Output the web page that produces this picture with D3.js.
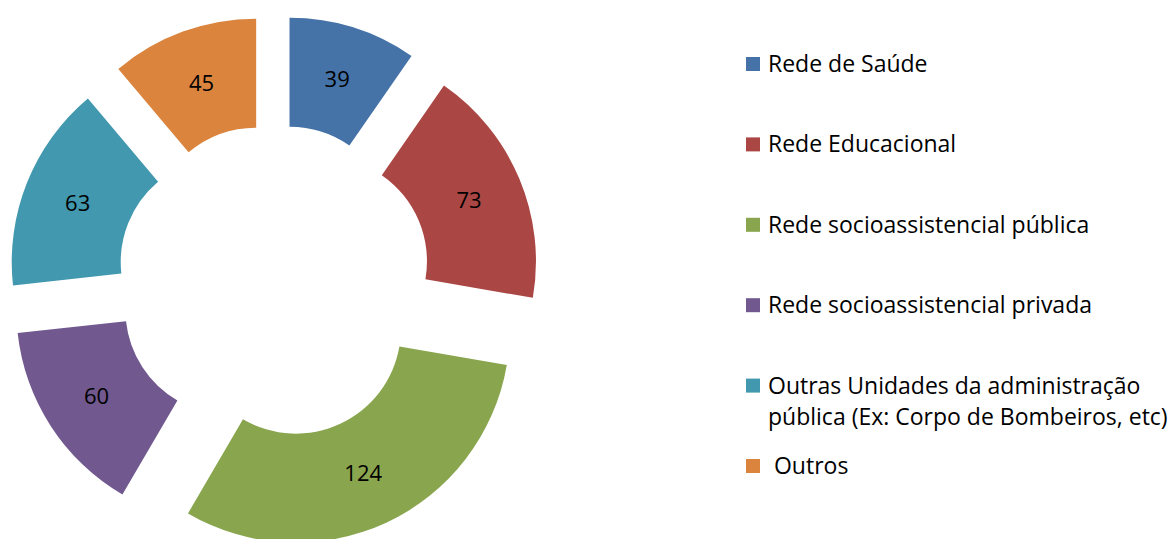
<!DOCTYPE html>
<html>
<head>
<meta charset="utf-8">
<script src="https://cdn.jsdelivr.net/npm/d3@7"></script>
<style>
  html, body { margin: 0; padding: 0; background: #fff; }
  svg { display: block; font-family: "Open Sans", Lato, sans-serif; }
</style>
</head>
<body>
<div id="chart"></div>
<script>
// data
const categories = [
  'Rede de Saúde',
  'Rede Educacional',
  'Rede socioassistencial pública',
  'Rede socioassistencial privada',
  'Outras Unidades da administração pública (Ex: Corpo de Bombeiros, etc)',
  'Outros'
];
const legendLines = [
  ['Rede de Saúde'],
  ['Rede Educacional'],
  ['Rede socioassistencial pública'],
  ['Rede socioassistencial privada'],
  ['Outras Unidades da administração', 'pública (Ex: Corpo de Bombeiros, etc)'],
  [' Outros']
];
const values = [39, 73, 124, 60, 63, 45];
const colors = ['#4572A7', '#AA4643', '#89A54E', '#71588F', '#4198AF', '#DB843D'];

const width = 1176, height = 539;
const center = { x: 274, y: 281.5 };
const outer = 214, inner = 105, explode = 52;

const svg = d3.select('#chart').append('svg')
  .attr('width', width)
  .attr('height', height);

const pie = d3.pie().sort(null).value((d) => d.value);
const arc = d3.arc().innerRadius(inner).outerRadius(outer);

const slices = pie(values.map((v, i) => ({ value: v, i })));

const g = svg.append('g')
  .attr('transform', `translate(${center.x},${center.y})`);

const slice = g.selectAll('g.slice')
  .data(slices)
  .enter().append('g')
  .attr('class', 'slice')
  .attr('transform', (d) => {
    const a = (d.startAngle + d.endAngle) / 2;
    return `translate(${explode * Math.sin(a)},${-explode * Math.cos(a)})`;
  });

slice.append('path')
  .attr('d', arc)
  .attr('fill', (d) => colors[d.data.i]);

slice.append('text')
  .attr('transform', (d) => `translate(${arc.centroid(d)})`)
  .attr('text-anchor', 'middle')
  .attr('dy', '0.35em')
  .style('font-size', '22px')
  .style('fill', '#000')
  .text((d) => d.data.value);

// legend
const legendY = d3.scalePoint()
  .domain(d3.range(categories.length))
  .range([64, 466]);

const legend = svg.append('g').selectAll('g')
  .data(categories)
  .enter().append('g')
  .attr('transform', (d, i) => `translate(746,${legendY(i)})`);

legend.append('rect')
  .attr('x', 0)
  .attr('y', -7)
  .attr('width', 14)
  .attr('height', 14)
  .attr('fill', (d, i) => colors[i]);

legend.append('text')
  .attr('x', 22)
  .style('font-size', '23px')
  .style('fill', '#000')
  .style('white-space', 'pre')
  .selectAll('tspan')
  .data((d, i) => legendLines[i])
  .enter().append('tspan')
  .attr('x', 22)
  .attr('dy', (d, j) => j === 0 ? '0.35em' : '1.38em')
  .text((d) => d);
</script>
</body>
</html>
